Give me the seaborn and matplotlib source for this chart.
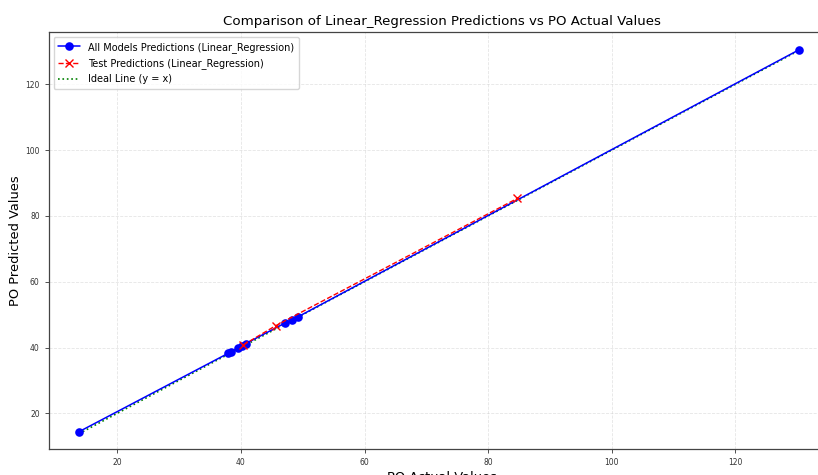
import matplotlib
matplotlib.use("Agg")
import matplotlib.pyplot as plt
import seaborn as sns
import pandas as pd

# All models predictions (sorted by actual)
all_actual = [13.8, 37.9, 38.4, 39.6, 40.1, 40.8, 47.1, 48.3, 49.2, 130.3]
all_pred = [14.4, 38.2, 38.7, 39.9, 40.5, 41.2, 47.4, 48.4, 49.3, 130.5]

# Test predictions
test_actual = [40.4, 45.6, 84.7]
test_pred = [40.8, 46.6, 85.3]

ideal = [min(all_actual), max(all_actual)]

title = "Comparison of Linear_Regression Predictions vs PO Actual Values"
xlabel = "PO Actual Values"
ylabel = "PO Predicted Values"

sns.set_style("white")
plt.rcParams['font.family'] = ['DejaVu Sans']
plt.rcParams['text.color'] = 'black'
plt.rcParams['axes.labelcolor'] = 'black'

fig = plt.figure(figsize=(8.18, 4.75), dpi=100)
ax = fig.add_axes([0.0595, 0.0547, 0.962, 0.878])

df_all = pd.DataFrame({"x": all_actual, "y": all_pred})
df_test = pd.DataFrame({"x": test_actual, "y": test_pred})
df_ideal = pd.DataFrame({"x": ideal, "y": ideal})

sns.lineplot(data=df_ideal, x="x", y="y", ax=ax, color="green",
             linewidth=1.2, linestyle=":", sort=False,
             label="Ideal Line (y = x)", zorder=1)
sns.lineplot(data=df_all, x="x", y="y", ax=ax, color="blue", marker="o",
             markersize=6.2, markeredgewidth=0, linewidth=1.1, sort=False,
             label="All Models Predictions (Linear_Regression)", zorder=2)
sns.lineplot(data=df_test, x="x", y="y", ax=ax, color="red", marker="x",
             markersize=6, markeredgewidth=1.0, markeredgecolor="red",
             linewidth=1.0, linestyle="--", sort=False,
             label="Test Predictions (Linear_Regression)", zorder=3)

ax.set_xlim(8.9, 136.2)
ax.set_ylim(9.15, 135.9)
ax.set_xticks([20, 40, 60, 80, 100, 120])
ax.set_yticks([20, 40, 60, 80, 100, 120])

ax.grid(True, linestyle="--", alpha=0.5, linewidth=0.6)
ax.tick_params(axis="both", labelsize=5.5, length=3, width=0.6,
               colors="#333333", bottom=True, left=True)
for sp in ax.spines.values():
    sp.set_color("#444444")
    sp.set_linewidth(0.9)

ax.set_title(title, fontsize=9.6, pad=5)
ax.set_xlabel(xlabel, fontsize=9.4, labelpad=3)
ax.set_ylabel(ylabel, fontsize=9.4, labelpad=2)

handles, labels = ax.get_legend_handles_labels()
order = [1, 2, 0]
leg = ax.legend([handles[i] for i in order], [labels[i] for i in order],
                loc="upper left", fontsize=7, frameon=True, handlelength=2.2,
                borderpad=0.5, labelspacing=0.55)
leg.get_frame().set_edgecolor("#cccccc")

fig.savefig("out.png", dpi=100)
